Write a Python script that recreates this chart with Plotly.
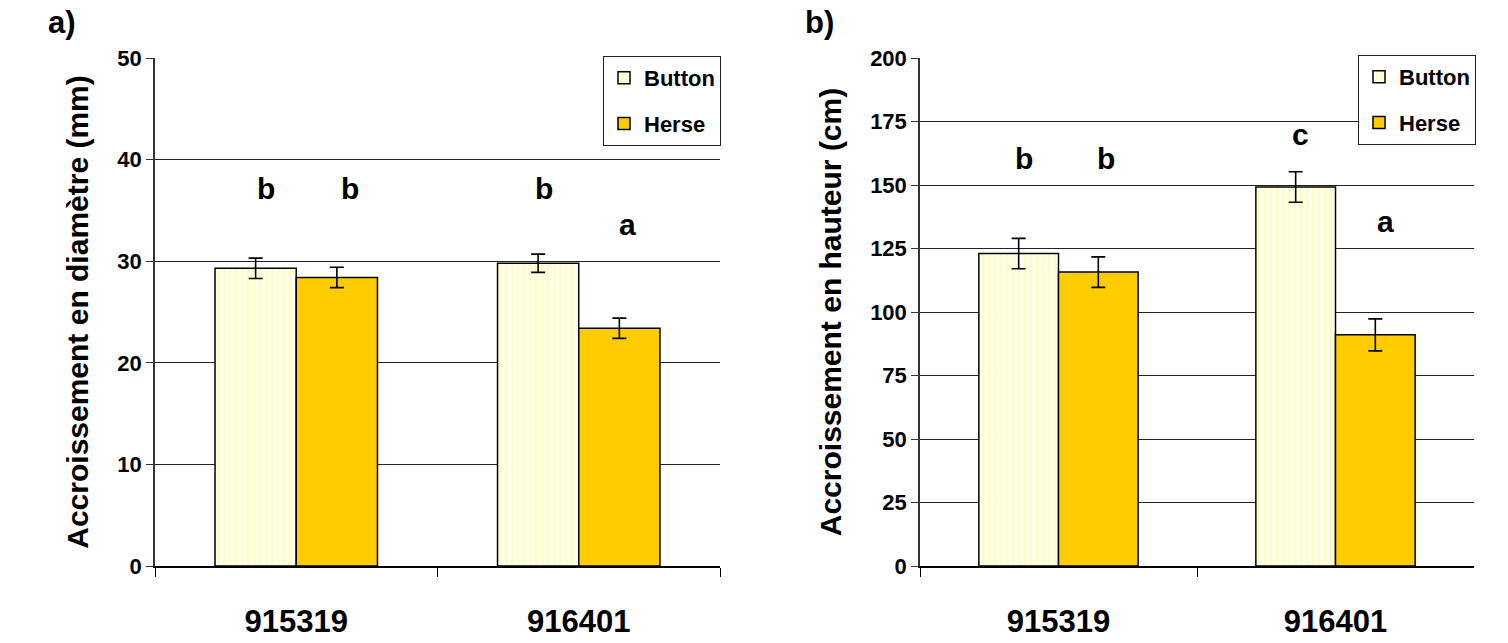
import plotly.graph_objects as go

# ---- data ----
categories = ["915319", "916401"]
series_names = ["Button", "Herse"]

diam_button = [29.3, 29.8]
diam_button_err = [1.0, 0.9]
diam_herse = [28.4, 23.4]
diam_herse_err = [1.0, 1.0]

haut_button = [123.0, 149.2]
haut_button_err = [6.0, 6.0]
haut_herse = [115.7, 91.0]
haut_herse_err = [6.0, 6.3]

# significance letters (text, x position in category units, y value)
diam_letters = ["b", "b", "b", "a"]
diam_letters_x = [-0.107, 0.190, 0.877, 1.174]
diam_letters_y = [37.2, 37.2, 37.2, 33.6]

haut_letters = ["b", "b", "c", "a"]
haut_letters_x = [-0.125, 0.171, 0.875, 1.179]
haut_letters_y = [160.6, 160.6, 169.7, 135.8]

FONT = "Arial, Liberation Sans, sans-serif"
BUTTON_BG = "#FFFFFF"
BUTTON_FG = "#FFFF70"
HERSE = "#FFCC00"
PAD = "\u00a0" * 6

fig = go.Figure()

def add_pair(xa, ya, leg, b_vals, b_err, h_vals, h_err):
    fig.add_trace(go.Bar(
        x=categories, y=b_vals, name=series_names[0],
        xaxis=xa, yaxis=ya, legend=leg, legendgroup=leg + "b",
        marker=dict(color=BUTTON_BG, line=dict(color="black", width=1.5),
                    pattern=dict(shape="|", fgcolor=BUTTON_FG, bgcolor=BUTTON_BG,
                                 size=6, solidity=0.5)),
        error_y=dict(type="data", array=b_err, visible=True, color="black",
                     thickness=1.6, width=7),
    ))
    fig.add_trace(go.Bar(
        x=categories, y=h_vals, name=series_names[1],
        xaxis=xa, yaxis=ya, legend=leg, legendgroup=leg + "h",
        marker=dict(color=HERSE, line=dict(color="black", width=1.5)),
        error_y=dict(type="data", array=h_err, visible=True, color="black",
                     thickness=1.6, width=7),
    ))

add_pair("x", "y", "legend", diam_button, diam_button_err, diam_herse, diam_herse_err)
add_pair("x2", "y2", "legend2", haut_button, haut_button_err, haut_herse, haut_herse_err)

W, H = 1508, 643
ydom = [(H - 566) / H, (H - 58) / H]

xcommon = dict(type="category", tickson="boundaries", ticks="outside", ticklen=9,
               tickcolor="black", tickwidth=1, showline=True, linecolor="black",
               linewidth=1.5, showgrid=False, zeroline=False, automargin=False,
               tickfont=dict(family=FONT, size=31, color="black", weight="bold"),
               ticklabelstandoff=27)
ycommon = dict(ticks="outside", ticklen=7, tickcolor="#333", showline=True,
               linecolor="#333", linewidth=1.5, showgrid=True, gridcolor="#222",
               gridwidth=1, zeroline=False, automargin=False,
               tickfont=dict(family=FONT, size=22, color="black", weight="bold"))

fig.update_layout(
    width=W, height=H,
    margin=dict(l=0, r=0, t=0, b=0, autoexpand=False),
    paper_bgcolor="white", plot_bgcolor="white",
    barmode="group", bargap=0.425, bargroupgap=0,
    showlegend=True,
    xaxis=dict(domain=[155 / W, 720 / W], anchor="y", **xcommon),
    xaxis2=dict(domain=[920 / W, 1474 / W], anchor="y2", **xcommon),
    yaxis=dict(domain=ydom, anchor="x", range=[0, 50], dtick=10,
               title=dict(text=PAD + "Accroissement en diamètre (mm)", standoff=20,
                          font=dict(family=FONT, size=30, color="black", weight="bold")),
               **ycommon),
    yaxis2=dict(domain=ydom, anchor="x2", range=[0, 200], dtick=25,
                title=dict(text=PAD + "Accroissement en hauteur (cm)", standoff=20,
                           font=dict(family=FONT, size=30, color="black", weight="bold")),
                **ycommon),
    legend=dict(x=721 / W, y=1 - 56 / H, xanchor="right", yanchor="top",
                bgcolor="white", bordercolor="#222", borderwidth=1,
                font=dict(family=FONT, size=22, color="black", weight="bold"),
                tracegroupgap=14, itemwidth=30),
    legend2=dict(x=1476 / W, y=1 - 55 / H, xanchor="right", yanchor="top",
                 bgcolor="white", bordercolor="#222", borderwidth=1,
                 font=dict(family=FONT, size=22, color="black", weight="bold"),
                 tracegroupgap=14, itemwidth=30),
)

annots = []
for t, xv, yv in zip(diam_letters, diam_letters_x, diam_letters_y):
    annots.append(dict(text=t, x=xv, y=yv, xref="x", yref="y", showarrow=False,
                       font=dict(family=FONT, size=30, color="black", weight="bold")))
for t, xv, yv in zip(haut_letters, haut_letters_x, haut_letters_y):
    annots.append(dict(text=t, x=xv, y=yv, xref="x2", yref="y2", showarrow=False,
                       font=dict(family=FONT, size=30, color="black", weight="bold")))
annots.append(dict(text="a)", x=62 / W, y=1 - 22 / H, xref="paper", yref="paper",
                   xanchor="center", yanchor="middle", showarrow=False,
                   font=dict(family=FONT, size=31, color="black", weight="bold")))
annots.append(dict(text="b)", x=820 / W, y=1 - 22 / H, xref="paper", yref="paper",
                   xanchor="center", yanchor="middle", showarrow=False,
                   font=dict(family=FONT, size=31, color="black", weight="bold")))
fig.update_layout(annotations=annots)

fig.write_html("out.html", config={"displayModeBar": False},
               post_script="document.body.style.margin='0';")
